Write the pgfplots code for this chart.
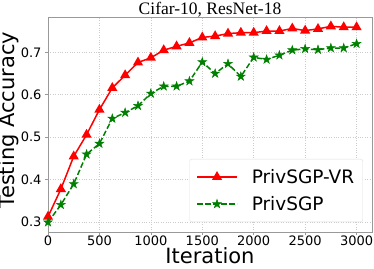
\documentclass[border=0pt]{standalone}
\usepackage{fontspec}
\setmainfont{Liberation Serif}
\newfontfamily\dv{DejaVu Sans}
\usepackage{pgfplots}
\pgfplotsset{compat=1.18}
\definecolor{mplred}{RGB}{255,0,0}
\definecolor{mplgreen}{RGB}{0,128,0}
\pgfdeclareplotmark{fstar}{%
  \pgfpathmoveto{\pgfpointpolar{90}{\pgfplotmarksize}}%
  \pgfpathlineto{\pgfpointpolar{126}{0.382\pgfplotmarksize}}%
  \pgfpathlineto{\pgfpointpolar{162}{\pgfplotmarksize}}%
  \pgfpathlineto{\pgfpointpolar{198}{0.382\pgfplotmarksize}}%
  \pgfpathlineto{\pgfpointpolar{234}{\pgfplotmarksize}}%
  \pgfpathlineto{\pgfpointpolar{270}{0.382\pgfplotmarksize}}%
  \pgfpathlineto{\pgfpointpolar{306}{\pgfplotmarksize}}%
  \pgfpathlineto{\pgfpointpolar{342}{0.382\pgfplotmarksize}}%
  \pgfpathlineto{\pgfpointpolar{18}{\pgfplotmarksize}}%
  \pgfpathlineto{\pgfpointpolar{54}{0.382\pgfplotmarksize}}%
  \pgfpathclose\pgfusepathqfillstroke}
\begin{document}
\begin{tikzpicture}
\begin{axis}[
  scale only axis,
  width=324pt, height=215pt,
  xmin=0, xmax=3150,
  ymin=0.277, ymax=0.783,
  xtick={0,500,1000,1500,2000,2500,3000},
  ytick={0.3,0.4,0.5,0.6,0.7},
  yticklabels={0.3,0.4,0.5,0.6,0.7},
  xticklabels={0,500,1000,1500,2000,2500,3000},
  /pgf/number format/assume math mode=true,
  tick label style={font=\dv\fontsize{13}{13}\selectfont, text=black},
  xticklabel style={yshift=2.5pt},
  tick align=outside, tick pos=left,
  major tick length=3pt,
  every tick/.style={gray!80, line width=0.6pt},
  axis line style={gray!80, line width=0.8pt},
  grid=major,
  grid style={dotted, gray!40, line width=0.6pt},
  legend style={at={(0.972,0.0465)}, anchor=south east, draw=gray!25, rounded corners=2pt,
    font=\dv\fontsize{18.5}{22}\selectfont, inner xsep=6.5pt, inner ysep=8pt, row sep=7.5pt,
    nodes={inner sep=2pt}},
  legend cell align=left,
  legend image code/.code={\draw[mark repeat=2, mark phase=2] plot coordinates {(0pt,0pt) (20pt,0pt) (40pt,0pt)}; \path (52pt,0pt);},
]
\addplot[mplred, line width=1.5pt, mark=triangle*, mark size=4.4pt, mark options={solid}] coordinates {
(0,0.313) (125,0.378) (250,0.455) (375,0.506) (500,0.565) (625,0.616) (750,0.646) (875,0.676)
(1000,0.687) (1125,0.705) (1250,0.714) (1375,0.722) (1500,0.735) (1625,0.738) (1750,0.744)
(1875,0.746) (2000,0.746) (2125,0.750) (2250,0.750) (2375,0.756) (2500,0.751) (2625,0.755)
(2750,0.761) (2875,0.759) (3000,0.759)};
\addlegendentry{PrivSGP-VR}
\addplot[mplgreen, line width=1.5pt, dash pattern=on 5.5pt off 2.5pt, mark=fstar, mark size=4.6pt, mark options={solid, line width=0.5pt}] coordinates {
(0,0.300) (125,0.341) (250,0.390) (375,0.460) (500,0.485) (625,0.544) (750,0.558) (875,0.574)
(1000,0.603) (1125,0.620) (1250,0.620) (1375,0.632) (1500,0.677) (1625,0.650) (1750,0.673)
(1875,0.643) (2000,0.688) (2125,0.683) (2250,0.693) (2375,0.705) (2500,0.708) (2625,0.706)
(2750,0.710) (2875,0.710) (3000,0.720)};
\addlegendentry{PrivSGP}
\coordinate (sw) at (rel axis cs:0,0);
\coordinate (ne) at (rel axis cs:1,1);
\coordinate (ttl) at (rel axis cs:0.5,1);
\coordinate (xl) at (rel axis cs:0.5,0);
\coordinate (yl) at (rel axis cs:0,0.521);
\end{axis}
\node[font=\fontsize{17.5}{17.5}\selectfont, anchor=base, inner sep=0pt] at ([yshift=2.5pt]ttl) {Cifar-10, ResNet-18};
\node[font=\dv\fontsize{21}{21}\selectfont, anchor=base, inner sep=0pt] at ([yshift=-31.5pt]xl) {Iteration};
\node[font=\dv\fontsize{21}{21}\selectfont, anchor=south, rotate=90, inner sep=0pt] at ([xshift=-29pt]yl) {Testing Accuracy};
\pgfresetboundingbox
\useasboundingbox ([shift={(-48pt,-36pt)}]sw) rectangle ([shift={(2pt,17pt)}]ne);
\end{tikzpicture}
\end{document}
